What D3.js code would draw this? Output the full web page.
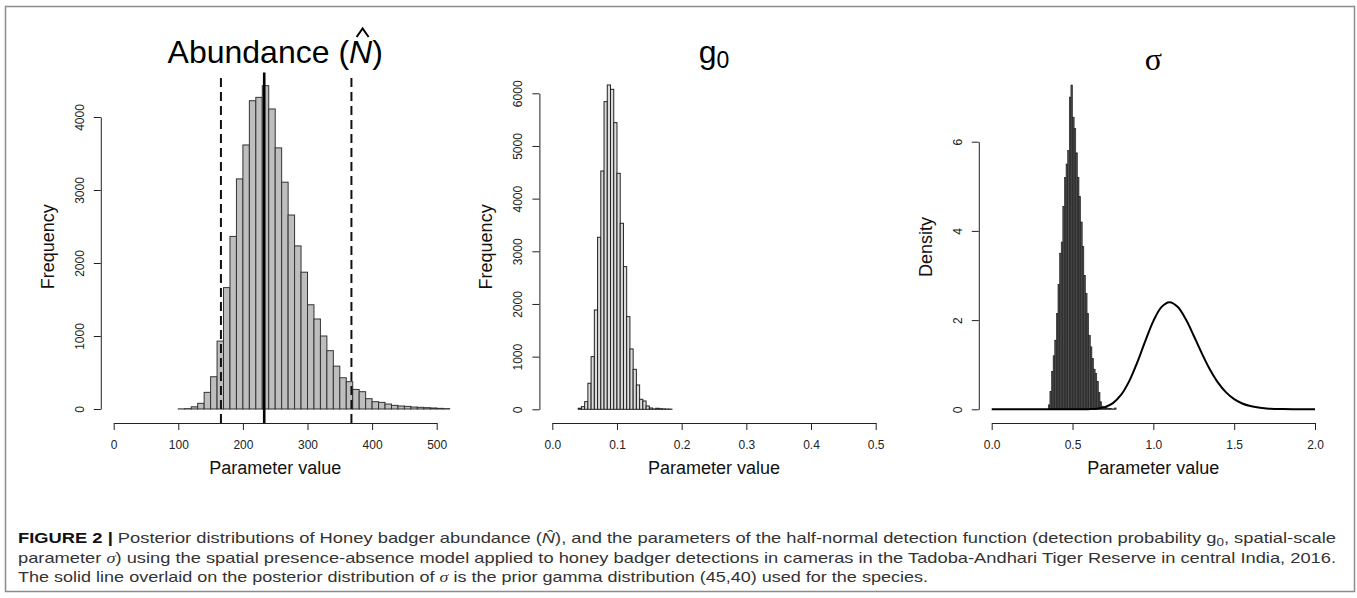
<!DOCTYPE html>
<html>
<head>
<meta charset="utf-8">
<script src="https://cdn.jsdelivr.net/npm/d3@7"></script>
<style>
  body { margin: 0; background: #fff; }
  svg { display: block; }
  text { font-family: "Liberation Sans", Arial, sans-serif; }
</style>
</head>
<body>
<div id="fig"></div>
<script>
// ---- data ----
// abundance posterior, bins of width 10
const abundLo = [100,110,120,130,140,150,160,170,180,190,200,210,220,230,240,250,260,270,280,290,
                 300,310,320,330,340,350,360,370,380,390,400,410,420,430,440,450,460,470,480,490,500,510];
const abundCount = [2,5,30,78,228,442,930,1663,2364,3152,3617,4223,4269,4429,4110,3577,3107,2657,2234,1874,
                    1428,1233,1000,799,587,428,374,268,237,141,100,91,68,50,41,36,27,23,18,14,9,5];
const abundBinWidth = 10;
const abundInterval = [166, 368];   // dashed lines
const abundMedian = 233;            // solid line

// g0 posterior, bins of width 0.005
const g0Lo = [0.040,0.045,0.050,0.055,0.060,0.065,0.070,0.075,0.080,0.085,0.090,0.095,0.100,0.105,0.110,
              0.115,0.120,0.125,0.130,0.135,0.140,0.145,0.150,0.155,0.160,0.165,0.170,0.175,0.180];
const g0Count = [20,50,145,494,1000,1886,3266,4525,5842,6158,6076,5443,4481,3532,2709,
                 1759,1146,759,462,190,158,63,25,8,20,12,8,5,4];
const g0BinWidth = 0.005;

// sigma posterior (density), bins of width 0.01
const sigmaLo = [0.35,0.36,0.37,0.38,0.39,0.40,0.41,0.42,0.43,0.44,0.45,0.46,0.47,0.48,0.49,
                 0.50,0.51,0.52,0.53,0.54,0.55,0.56,0.57,0.58,0.59,0.60,0.61,0.62,0.63,0.64,
                 0.65,0.66,0.67,0.68,0.69,0.70,0.71,0.72,0.73,0.74,0.75,0.76];
const sigmaDensity = [0.10,0.40,0.85,1.20,1.55,2.15,2.80,3.50,3.75,4.55,5.20,5.50,5.80,7.00,7.27,
                      6.55,6.30,5.75,5.20,4.77,4.20,3.65,3.00,2.60,2.15,1.66,1.40,1.14,0.90,0.80,
                      0.62,0.38,0.17,0.07,0.04,0.06,0.03,0.02,0.02,0.01,0.01,0.03];
const sigmaBinWidth = 0.01;

// prior curve for sigma, gamma(45,40)
const priorX = [0,0.5,0.55,0.6,0.65,0.7,0.75,0.8,0.85,0.9,0.95,1.0,1.05,1.1,1.15,1.2,1.25,1.3,
                1.35,1.4,1.45,1.5,1.55,1.6,1.65,1.7,1.75,1.8,1.9,2.0];
const priorY = [0,0,0.0005,0.003,0.014,0.049,0.139,0.321,0.626,1.048,1.530,1.978,2.291,2.401,2.297,2.023,1.650,1.254,
                0.893,0.599,0.380,0.228,0.131,0.072,0.038,0.019,0.009,0.004,0.001,0.0002];

// axis ticks
const abundXTicks = [0,100,200,300,400,500];
const abundYTicks = [0,1000,2000,3000,4000];
const g0XTicks = [0,0.1,0.2,0.3,0.4,0.5];
const g0YTicks = [0,1000,2000,3000,4000,5000,6000];
const sigmaXTicks = [0,0.5,1.0,1.5,2.0];
const sigmaYTicks = [0,2,4,6];

// ---- drawing ----
const W = 1357, H = 598;
const svg = d3.select("#fig").append("svg").attr("width", W).attr("height", H);

svg.append("rect")
    .attr("x", 5.5).attr("y", 6.5)
    .attr("width", 1349).attr("height", 585)
    .attr("fill", "none")
    .attr("stroke", "#8c8c8c")
    .attr("stroke-width", 1.5);

const axisY = 423;   // x axis line
const plotTop = 72.5;

function drawPanel(p) {
    const x = d3.scaleLinear().domain(p.xDomain).range(p.xRange);
    const y = d3.scaleLinear().domain(p.yDomain).range(p.yRange);
    const g = svg.append("g");

    g.selectAll("rect.bar")
        .data(p.lo.map((d, i) => ({ lo: d, v: p.vals[i] })))
        .enter()
        .append("rect")
        .attr("class", "bar")
        .attr("x", d => x(d.lo))
        .attr("width", d => x(d.lo + p.binWidth) - x(d.lo))
        .attr("y", d => y(d.v))
        .attr("height", d => y(0) - y(d.v))
        .attr("fill", p.fill)
        .attr("stroke", p.stroke)
        .attr("stroke-width", p.strokeWidth);

    const xAxis = g.append("g")
        .attr("transform", `translate(0,${axisY})`)
        .call(d3.axisBottom(x).tickValues(p.xTicks).tickFormat(p.xFormat)
              .tickSize(7).tickSizeOuter(0).tickPadding(10));
    const yAxis = g.append("g")
        .attr("transform", `translate(${p.left},0)`)
        .call(d3.axisLeft(y).tickValues(p.yTicks).tickFormat(d3.format("d"))
              .tickSize(7).tickSizeOuter(0));

    [xAxis, yAxis].forEach(a => {
        a.attr("font-family", null).attr("font-size", null);
        a.select(".domain").attr("stroke", "#222");
        a.selectAll(".tick line").attr("stroke", "#222");
        a.selectAll("text").attr("fill", "#222").style("font-size", "12px");
    });
    yAxis.selectAll("text")
        .attr("x", null).attr("dy", null)
        .attr("text-anchor", "middle")
        .attr("transform", "translate(-17,0) rotate(-90)");

    const cx = (p.left + p.right) / 2;
    g.append("text")
        .attr("x", cx).attr("y", 474)
        .attr("text-anchor", "middle")
        .style("font-size", "18px")
        .attr("fill", "#111")
        .text("Parameter value");
    g.append("text")
        .attr("text-anchor", "middle")
        .attr("transform", `translate(${p.left - 47},${(p.yRange[0] + plotTop) / 2 + 6}) rotate(-90)`)
        .style("font-size", "18px")
        .attr("fill", "#111")
        .text(p.yLabel);

    return { x, y, g, cx };
}

// panel 1: abundance
const p1 = drawPanel({
    lo: abundLo, vals: abundCount, binWidth: abundBinWidth,
    xDomain: [0, 500], xRange: [113.7, 436.7],
    yDomain: [0, 4000], yRange: [409, 117],
    left: 100.8, right: 449.6,
    xTicks: abundXTicks, yTicks: abundYTicks, xFormat: d3.format("d"),
    fill: "#bebebe", stroke: "#333", strokeWidth: 1,
    yLabel: "Frequency"
});
abundInterval.forEach(v => {
    p1.g.append("line")
        .attr("x1", p1.x(v)).attr("x2", p1.x(v))
        .attr("y1", 78).attr("y2", axisY)
        .attr("stroke", "#111").attr("stroke-width", 2)
        .attr("stroke-dasharray", "9,5");
});
p1.g.append("line")
    .attr("x1", p1.x(abundMedian)).attr("x2", p1.x(abundMedian))
    .attr("y1", plotTop).attr("y2", axisY)
    .attr("stroke", "#000").attr("stroke-width", 2.6);

const t1 = p1.g.append("text")
    .attr("x", p1.cx).attr("y", 63)
    .attr("text-anchor", "middle")
    .style("font-size", "32px")
    .attr("fill", "#000");
t1.append("tspan").text("Abundance (");
t1.append("tspan").attr("font-style", "italic").text("N");
t1.append("tspan").text(")");
const nBox = t1.node().getExtentOfChar(11);
const hatX = nBox.x + nBox.width / 2 + 2;
p1.g.append("path")
    .attr("d", `M${hatX - 6},37 L${hatX},28.5 L${hatX + 6},37`)
    .attr("fill", "none").attr("stroke", "#000").attr("stroke-width", 2);

// panel 2: g0
const p2 = drawPanel({
    lo: g0Lo, vals: g0Count, binWidth: g0BinWidth,
    xDomain: [0, 0.5], xRange: [552.3, 875.7],
    yDomain: [0, 6000], yRange: [409.3, 93.3],
    left: 539.4, right: 888.6,
    xTicks: g0XTicks, yTicks: g0YTicks, xFormat: d3.format(".1f"),
    fill: "#dcdcdc", stroke: "#222", strokeWidth: 1,
    yLabel: "Frequency"
});
const t2 = p2.g.append("text")
    .attr("x", p2.cx).attr("y", 63)
    .attr("text-anchor", "middle")
    .attr("fill", "#000");
t2.append("tspan").style("font-size", "32px").text("g");
t2.append("tspan").style("font-size", "23px").attr("dy", 5).text("0");

// panel 3: sigma
const p3 = drawPanel({
    lo: sigmaLo, vals: sigmaDensity, binWidth: sigmaBinWidth,
    xDomain: [0, 2], xRange: [991.7, 1315],
    yDomain: [0, 6], yRange: [409.3, 141.7],
    left: 978.8, right: 1327.9,
    xTicks: sigmaXTicks, yTicks: sigmaYTicks, xFormat: d3.format(".1f"),
    fill: "#4d4d4d", stroke: "#1e1e1e", strokeWidth: 0.6,
    yLabel: "Density"
});
p3.g.append("path")
    .datum(priorX.map((d, i) => [d, priorY[i]]))
    .attr("d", d3.line().x(d => p3.x(d[0])).y(d => p3.y(d[1])).curve(d3.curveCatmullRom))
    .attr("fill", "none").attr("stroke", "#000").attr("stroke-width", 2);
p3.g.append("text")
    .attr("x", p3.cx).attr("y", 69.5)
    .attr("text-anchor", "middle")
    .style("font-family", "'Liberation Serif', 'DejaVu Serif', serif")
    .style("font-size", "32px")
    .attr("fill", "#000")
    .text("σ");

// ---- caption ----
const capX = 18, capRight = 1336;
const capFont = "15px";
const serif = "'Liberation Serif', 'DejaVu Serif', serif";

const c1 = svg.append("text").attr("x", capX).attr("y", 543)
    .style("font-size", capFont).attr("fill", "#333")
    .attr("textLength", capRight - capX).attr("lengthAdjust", "spacingAndGlyphs");
c1.append("tspan").attr("font-weight", "bold").attr("fill", "#111").text("FIGURE 2 | ");
c1.append("tspan").text("Posterior distributions of Honey badger abundance (");
c1.append("tspan").attr("font-style", "italic").text("N\u0302");
c1.append("tspan").text("), and the parameters of the half-normal detection function (detection probability g");
c1.append("tspan").attr("dy", 3).style("font-size", "11px").text("0");
c1.append("tspan").attr("dy", -3).text(", spatial-scale");

const c2 = svg.append("text").attr("x", capX).attr("y", 563)
    .style("font-size", capFont).attr("fill", "#333")
    .attr("textLength", capRight - capX).attr("lengthAdjust", "spacingAndGlyphs");
c2.append("tspan").text("parameter ");
c2.append("tspan").attr("font-style", "italic").style("font-family", serif).text("σ");
c2.append("tspan").text(") using the spatial presence-absence model applied to honey badger detections in cameras in the Tadoba-Andhari Tiger Reserve in central India, 2016.");

const c3 = svg.append("text").attr("x", capX).attr("y", 582)
    .style("font-size", capFont).attr("fill", "#333")
    .attr("textLength", 910).attr("lengthAdjust", "spacingAndGlyphs");
c3.append("tspan").text("The solid line overlaid on the posterior distribution of ");
c3.append("tspan").attr("font-style", "italic").style("font-family", serif).text("σ");
c3.append("tspan").text(" is the prior gamma distribution (45,40) used for the species.");
</script>
</body>
</html>
